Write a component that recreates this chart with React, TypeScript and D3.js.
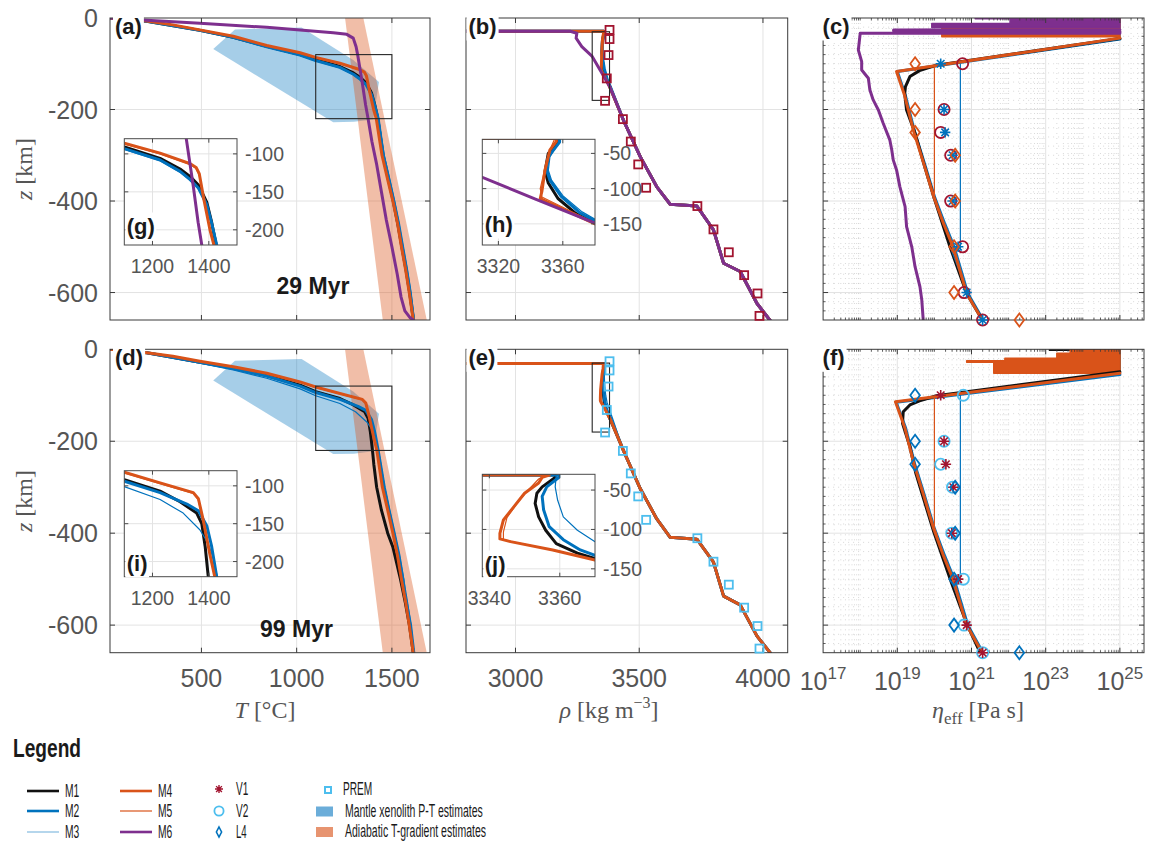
import React, { useEffect, useRef } from 'react';
import * as d3 from 'd3';

type P = [number, number];

// ================= DATA =================
// Temperature profiles, panel (a) 29 Myr: [T (°C), z (km)]
const tempA_M1: P[] = [[20,0],[213,-7],[492,-27],[667,-42],[843,-62],[1018,-80],[1100,-91],[1227,-106],[1298,-120],[1334,-130],[1363,-141],[1393,-164],[1410,-190],[1426,-220],[1453,-300],[1480,-350],[1507,-400],[1531,-450],[1552,-500],[1574,-550],[1593,-600],[1613,-660]];
const tempA_M2: P[] = [[20,0],[213,-7],[492,-27],[667,-42],[843,-63],[1018,-81],[1100,-93],[1227,-108],[1298,-123],[1334,-134],[1363,-145],[1393,-167],[1410,-191],[1428,-220],[1455,-300],[1482,-350],[1509,-400],[1533,-450],[1554,-500],[1576,-550],[1595,-600],[1614,-660]];
const tempA_M3: P[] = [[20,0],[213,-7],[492,-27],[667,-43],[843,-64],[1018,-82],[1100,-94],[1227,-109],[1298,-124],[1334,-135],[1363,-146],[1393,-168],[1412,-192],[1430,-220],[1460,-300],[1488,-350],[1515,-400],[1540,-450],[1561,-500],[1582,-550],[1601,-600],[1618,-660]];
const tempA_M4: P[] = [[20,0],[213,-6.6],[350,-15],[492,-26],[667,-40],[843,-60],[1018,-76],[1100,-86],[1227,-99],[1334,-113],[1355,-118],[1366,-126],[1383,-161],[1404,-200],[1418,-220],[1448,-300],[1476,-350],[1505,-400],[1530,-450],[1550,-500],[1572,-550],[1591,-600],[1612,-660]];
const tempA_M5: P[] = [[20,0],[213,-6.7],[350,-15],[492,-26],[667,-40],[843,-60],[1018,-77],[1100,-87],[1227,-100],[1334,-114],[1354,-119],[1366,-128],[1384,-163],[1405,-201],[1419,-220],[1450,-300],[1478,-350],[1507,-400],[1532,-450],[1552,-500],[1574,-550],[1593,-600],[1613,-660]];
const tempA_M6: P[] = [[20,0],[213,-5],[492,-11.7],[843,-20.4],[1192,-32],[1263,-35.7],[1297,-44],[1312,-63],[1320,-80],[1345,-143],[1362,-190],[1375,-220],[1395,-270],[1420,-320],[1445,-380],[1470,-440],[1500,-500],[1528,-560],[1548,-610],[1568,-640],[1595,-655],[1612,-660]];

// Temperature profiles, panel (d) 99 Myr
const tempD_M1: P[] = [[20,0],[213,-7.5],[492,-28],[667,-41],[843,-57],[1018,-78],[1100,-92],[1227,-107],[1298,-121],[1357,-136],[1375,-150],[1387,-180],[1398,-220],[1405,-250],[1420,-300],[1445,-350],[1478,-400],[1505,-430],[1545,-500],[1570,-550],[1592,-600],[1612,-660]];
const tempD_M2: P[] = [[20,0],[213,-7.5],[492,-28],[667,-42],[843,-58],[1018,-80],[1100,-94],[1227,-109],[1322,-124],[1363,-133],[1393,-153],[1410,-180],[1428,-220],[1460,-300],[1485,-350],[1512,-400],[1538,-450],[1558,-500],[1566,-530],[1580,-560],[1598,-600],[1615,-660]];
const tempD_M3: P[] = [[20,0],[213,-8],[492,-30],[667,-45],[843,-63],[1018,-86],[1100,-101],[1227,-118],[1309,-136],[1368,-158],[1398,-176],[1415,-195],[1430,-220],[1462,-300],[1488,-350],[1514,-400],[1540,-450],[1562,-500],[1582,-550],[1600,-600],[1616,-660]];
const tempD_M4: P[] = [[20,0],[213,-7.4],[350,-15],[492,-26],[667,-38],[843,-52],[1018,-71],[1100,-82],[1227,-96],[1345,-109],[1363,-117],[1380,-145],[1403,-189],[1421,-220],[1450,-300],[1478,-350],[1505,-400],[1530,-450],[1550,-500],[1572,-550],[1591,-600],[1612,-660]];
const tempD_M5: P[] = [[20,0],[213,-7.5],[350,-15],[492,-26],[667,-38],[843,-53],[1018,-72],[1100,-83],[1227,-97],[1344,-110],[1362,-118],[1380,-147],[1403,-190],[1421,-220],[1451,-300],[1479,-350],[1506,-400],[1531,-450],[1551,-500],[1573,-550],[1592,-600],[1613,-660]];

// Mantle xenolith P-T estimates (polygon) and adiabatic T-gradient band edges
const xenolithPT: P[] = [[562,-68],[676,-25],[1026,-21],[1297,-92],[1432,-140],[1402,-222],[1300,-227],[1192,-228]];
const adiabatCold: P[] = [[1254,0],[1452,-660]];
const adiabatHot: P[] = [[1350,0],[1683,-660]];

// Density profiles, panel (b) 29 Myr: [rho (kg m^-3), z (km)]
const rhoDeep29: P[] = [[3436,-223],[3504,-303],[3571,-369],[3625,-407],[3733,-411],[3800,-463],[3841,-536],[3908,-554],[3976,-624],[4029,-661]];
const rhoB_M1: P[] = [[2780,-29],[3357,-29],[3357,-34],[3351,-50],[3349,-75],[3351,-92],[3357,-114],[3368,-135],[3381,-150]];
const rhoB_M2: P[] = [[2780,-29],[3358,-29],[3358,-34],[3351,-55],[3350,-74],[3352,-88],[3359,-111],[3371,-135],[3381,-147]];
const rhoB_M3: P[] = [[2780,-29],[3358,-29],[3357,-36],[3352,-55],[3351,-74],[3353,-88],[3360,-110],[3372,-133],[3382,-146]];
const rhoB_M4: P[] = [[2780,-29],[3356,-29],[3356,-33],[3352,-45],[3349,-73],[3347,-104],[3346,-114],[3380,-150]];
const rhoB_M5: P[] = [[2780,-29],[3355,-29],[3353,-40],[3350,-60],[3348,-80],[3346,-100],[3347,-112],[3381,-150]];
const rhoB_M6: P[] = [[2780,-29],[3221,-29],[3248,-33.4],[3245,-44],[3268,-62.7],[3310,-84],[3343,-115],[3380,-149]];

// Density profiles, panel (e) 99 Myr
const rhoDeep99: P[] = [[3436,-220],[3504,-303],[3571,-369],[3625,-409],[3733,-413],[3800,-463],[3841,-537],[3908,-556],[3976,-624],[4029,-660]];
const rhoE_M1: P[] = [[2780,-31],[3358.7,-31],[3358.7,-34],[3355,-46],[3353.5,-54],[3353,-67],[3354,-84],[3356,-101],[3359,-118],[3365,-130],[3370,-137],[3385,-155]];
const rhoE_M2: P[] = [[2780,-31],[3359.7,-31],[3359.7,-34],[3356.3,-46],[3355,-58],[3355.4,-75],[3357,-96.5],[3361,-113],[3365.8,-126],[3370,-133],[3386,-152]];
const rhoE_M3: P[] = [[2780,-31],[3359,-31],[3358.7,-46],[3359.4,-63],[3361,-84],[3365,-101],[3370,-115.5],[3392,-150]];
const rhoE_M4: P[] = [[2780,-31],[3357,-31],[3355,-34],[3354,-41],[3350,-54],[3347,-71],[3344,-88],[3343,-105],[3343,-112],[3346,-115.5],[3358,-126],[3370,-139],[3383,-152]];
const rhoE_M5: P[] = [[2780,-31],[3356,-31],[3354,-36],[3351,-50],[3348,-66],[3345,-85],[3344,-103],[3344,-113],[3347,-116],[3359,-127],[3370,-139]];

// PREM density [rho, z]
const prem: P[] = [[3380,-26],[3380,-46],[3376,-81],[3369,-132],[3362,-181],[3434,-221],[3466,-270],[3496,-320],[3528,-371],[3735,-411],[3800,-462],[3862,-512],[3924,-562],[3978,-602],[3986,-651]];

// Effective viscosity, panel (c) 29 Myr: [log10(eta), z]
const viscC_M1: P[] = [[25.0,-45],[20.06,-103],[19.6,-115],[19.34,-128],[19.22,-150],[19.2,-165],[19.25,-201],[19.48,-252],[19.72,-320],[19.98,-390],[20.42,-500],[20.87,-602],[21.3,-661]];
const viscC_M2: P[] = [[25.0,-46],[19.0,-117],[19.22,-170],[19.47,-250],[19.74,-320],[20.0,-390],[20.28,-450],[20.53,-500],[20.9,-602],[21.32,-661]];
const viscC_M3: P[] = [[25.0,-46],[20.7,-97],[20.7,-507],[20.47,-510],[20.9,-602],[21.32,-661]];
const viscC_M4: P[] = [[25.0,-44],[18.98,-117],[19.2,-170],[19.45,-250],[19.72,-320],[19.98,-390],[20.25,-450],[20.5,-500],[20.87,-602],[21.3,-661]];
const viscC_M5: P[] = [[25.0,-44],[20.0,-104],[20.0,-390],[20.25,-450],[20.5,-500],[20.87,-602],[21.3,-661]];
const viscC_M6: P[] = [[25.0,-25.5],[18.9,-26],[18.9,-28],[25.0,-29],[25.0,-33.5],[18.0,-33.5],[17.95,-70],[18.04,-95.5],[18.04,-113.6],[18.22,-131.8],[18.26,-157],[18.35,-179],[18.49,-201],[18.62,-230],[18.8,-267],[18.85,-288],[18.89,-310],[18.98,-332],[19.07,-369],[19.21,-412],[19.25,-456],[19.39,-500],[19.48,-544],[19.61,-587],[19.66,-616],[19.7,-661]];
// Noisy crustal band (left envelope of oscillations, right bound 1e25): [z, log10(eta)]
const bandC_M1: P[] = [[0,22.6],[-2,24.95],[-22,20.5],[-33,24.95],[-45,24.95]];
const bandC_M4: P[] = [[0,23.1],[-3,24.95],[-21,20.2],[-41,24.95],[-44,24.95]];
const bandC_M6: P[] = [[0,21.1],[-1.5,24.9],[-3,22.04],[-12,19.93],[-21,19.93]];

// Effective viscosity, panel (f) 99 Myr
const viscF_M1: P[] = [[25.0,-49],[20.06,-101],[19.6,-112],[19.34,-121],[19.16,-136],[19.14,-161],[19.2,-176],[19.34,-212],[19.5,-270],[19.97,-394],[20.47,-510],[20.87,-597],[21.23,-659]];
const viscF_M2: P[] = [[25.0,-55],[18.97,-115],[19.22,-170],[19.47,-250],[19.74,-320],[20.0,-390],[20.28,-450],[20.53,-500],[20.9,-600],[21.3,-659]];
const viscF_M3: P[] = [[25.0,-53],[20.7,-98],[20.7,-510],[20.5,-512],[20.9,-600],[21.3,-659]];
const viscF_M4: P[] = [[25.0,-52],[18.95,-114],[19.2,-170],[19.45,-250],[19.72,-320],[19.98,-390],[20.25,-450],[20.5,-500],[20.87,-600],[21.28,-659]];
const viscF_M5: P[] = [[25.0,-52],[20.0,-103],[20.0,-387],[20.25,-450],[20.5,-500],[20.87,-600],[21.28,-659]];
const bandF_M1: P[] = [[0,23.1],[-2,24.95],[-49,24.95]];
const bandF_M4: P[] = [[0,23.66],[-8.7,23.3],[-19.6,21.9],[-25,20.87],[-28,21.6],[-52,21.6]];

// Viscosity estimates (markers): depth and log10(eta)
const markerDepths = [-100, -200, -250, -300, -400, -500, -600, -660];
const V1_c = [20.17, 20.26, 20.29, 20.49, 20.49, 20.64, 20.87, 21.3];
const V2_c = [20.76, 20.26, 20.17, 20.44, 20.44, 20.76, 20.8, 21.3];
const L4_c = [19.48, 19.48, 19.48, 20.56, 20.56, 20.53, 20.53, 22.29];
const V1_f = [20.17, 20.26, 20.31, 20.51, 20.47, 20.64, 20.87, 21.3];
const V2_f = [20.78, 20.26, 20.17, 20.49, 20.47, 20.78, 20.8, 21.3];
const L4_f = [19.48, 19.48, 19.48, 20.56, 20.56, 20.53, 20.53, 22.29];

// Ticks
const tTicks = [500, 1000, 1500];
const rhoTicks = [3000, 3500, 4000];
const zTicks = [0, -200, -400, -600];
const etaTickExps = [17, 19, 21, 23, 25];
const insetTTicks = [1200, 1400];
const insetTZTicks = [-100, -150, -200];
const insetRhoTicksH = [3320, 3360];
const insetRhoTicksJ = [3340, 3360];
const insetRhoZTicks = [-50, -100, -150];
const zoomBoxT: P[] = [[1100, -80], [1500, -220]];
const zoomBoxRho: P[] = [[3310, -30], [3380, -180]];
const models = ['M1', 'M2', 'M3', 'M4', 'M5', 'M6'];

// ================= STYLE =================
const COL: Record<string, string> = {
  M1: '#111111', M2: '#0072BD', M3: '#0072BD', M4: '#D95319', M5: '#D95319', M6: '#7E2F8E',
  red: '#A2142F', cyan: '#4DBEEE',
};
const WID: Record<string, number> = { M1: 3, M2: 3, M3: 1.2, M4: 3, M5: 1.2, M6: 3 };
const SANS = "'Liberation Sans', Arial, Helvetica, sans-serif";
const NARROW = "'Liberation Sans Narrow', 'Liberation Sans', Arial, sans-serif";
const SERIF = "'Liberation Serif', 'Times New Roman', serif";
const GRID = '#e3e3e3';
const AX = '#3a3a3a';
const TXT = '#555555';

type Box = { x0: number; x1: number; y0: number; y1: number };

export default function App() {
  const ref = useRef<SVGSVGElement | null>(null);

  useEffect(() => {
    const root = d3.select(ref.current as SVGSVGElement);
    root.selectAll('*').remove();
    const defs = root.append('defs');
    let cid = 0;
    const clipUrl = (b: Box) => {
      const id = `cp${cid++}`;
      defs.append('clipPath').attr('id', id).append('rect')
        .attr('x', b.x0).attr('y', b.y0).attr('width', b.x1 - b.x0).attr('height', b.y1 - b.y0);
      return `url(#${id})`;
    };
    root.append('rect').attr('width', 1149).attr('height', 841).attr('fill', '#fff');

    const boxA: Box = { x0: 110, x1: 430, y0: 18, y1: 320 };
    const boxB: Box = { x0: 466, x1: 787.7, y0: 18, y1: 320 };
    const boxC: Box = { x0: 823.1, x1: 1144, y0: 18, y1: 320 };
    const boxD: Box = { x0: 110, x1: 430, y0: 349.3, y1: 652.7 };
    const boxE: Box = { x0: 466, x1: 787.7, y0: 349.3, y1: 652.7 };
    const boxF: Box = { x0: 823.1, x1: 1144, y0: 349.3, y1: 652.7 };

    const yTop = d3.scaleLinear().domain([-660, 0]).range([boxA.y1, boxA.y0]);
    const yBot = d3.scaleLinear().domain([-660, 0]).range([boxD.y1, boxD.y0]);
    const xT = d3.scaleLinear().domain([20, 1700]).range([boxA.x0, boxA.x1]);
    const xR = d3.scaleLinear().domain([2800, 4100]).range([boxB.x0, boxB.x1]);
    const xE = d3.scaleLog().domain([1e17, Math.pow(10, 25.65)]).range([boxC.x0, boxC.x1]);
    const xEl = (v: number) => xE(Math.pow(10, v));

    const lineGen = (xs: (v: number) => number, ys: (v: number) => number) =>
      d3.line<P>().x(d => xs(d[0])).y(d => ys(d[1]));

    const drawSeries = (g: any, series: { data: P[]; m: string; w?: number; op?: number }[], xs: any, ys: any) => {
      series.forEach(s => {
        g.append('path').attr('d', lineGen(xs, ys)(s.data) as string)
          .attr('fill', 'none').attr('stroke', COL[s.m]).attr('stroke-width', s.w ?? WID[s.m])
          .attr('stroke-opacity', s.op ?? 1)
          .attr('stroke-linejoin', 'round').attr('stroke-linecap', 'round');
      });
    };

    const vline = (g: any, x: number, y0: number, y1: number, stroke: string, w = 1, dash: string | null = null) =>
      g.append('line').attr('x1', x).attr('x2', x).attr('y1', y0).attr('y2', y1)
        .attr('stroke', stroke).attr('stroke-width', w).attr('stroke-dasharray', dash);
    const hline = (g: any, y: number, x0: number, x1: number, stroke: string, w = 1, dash: string | null = null) =>
      g.append('line').attr('x1', x0).attr('x2', x1).attr('y1', y).attr('y2', y)
        .attr('stroke', stroke).attr('stroke-width', w).attr('stroke-dasharray', dash);

    const drawGrid = (g: any, b: Box, xs: number[], ys: number[]) => {
      xs.filter(x => x > b.x0 + 0.5 && x < b.x1 - 0.5).forEach(x => vline(g, x, b.y0, b.y1, GRID, 1));
      ys.filter(y => y > b.y0 + 0.5 && y < b.y1 - 0.5).forEach(y => hline(g, y, b.x0, b.x1, GRID, 1));
    };
    const drawFrame = (g: any, b: Box, xs: number[], ys: number[], len = 5, color = AX) => {
      g.append('rect').attr('x', b.x0).attr('y', b.y0).attr('width', b.x1 - b.x0).attr('height', b.y1 - b.y0)
        .attr('fill', 'none').attr('stroke', color).attr('stroke-width', 1);
      xs.filter(x => x > b.x0 + 0.5 && x < b.x1 - 0.5).forEach(x => {
        vline(g, x, b.y1, b.y1 - len, color, 1);
        vline(g, x, b.y0, b.y0 + len, color, 1);
      });
      ys.filter(y => y > b.y0 + 0.5 && y < b.y1 - 0.5).forEach(y => {
        hline(g, y, b.x0, b.x0 + len, color, 1);
        hline(g, y, b.x1 - len, b.x1, color, 1);
      });
    };
    const text = (g: any, x: number, y: number, s: string, size: number, opts: any = {}) =>
      g.append('text').attr('x', x).attr('y', y).text(s)
        .attr('font-family', opts.family ?? SANS).attr('font-size', size)
        .attr('font-weight', opts.weight ?? 'normal').attr('fill', opts.fill ?? TXT)
        .attr('text-anchor', opts.anchor ?? 'start').attr('dominant-baseline', opts.baseline ?? 'alphabetic');
    const labelBg = (g: any, x: number, y: number, s: string, size = 22, pad = 2) => {
      const gg = g.append('g');
      const rect = gg.append('rect').attr('fill', '#fff');
      const t = text(gg, x, y, s, size, { weight: 'bold', fill: '#1a1a1a' });
      const bb = (t.node() as SVGTextElement).getBBox();
      rect.attr('x', bb.x - pad).attr('y', bb.y - pad).attr('width', bb.width + 2 * pad).attr('height', bb.height + 2 * pad);
    };
    const zLabels = (g: any, ys: any) => zTicks.forEach(z => text(g, 98, ys(z), String(z), 25, { anchor: 'end', baseline: 'central' }));

    // ---------- markers ----------
    const asterisk = (g: any, cx: number, cy: number, r: number, c: string, w = 1.6) => {
      const k = r * 0.72;
      g.append('path').attr('d', `M${cx - r},${cy}L${cx + r},${cy}M${cx},${cy - r}L${cx},${cy + r}M${cx - k},${cy - k}L${cx + k},${cy + k}M${cx - k},${cy + k}L${cx + k},${cy - k}`)
        .attr('stroke', c).attr('stroke-width', w).attr('fill', 'none');
    };
    const circle = (g: any, cx: number, cy: number, r: number, c: string, w = 1.8) =>
      g.append('circle').attr('cx', cx).attr('cy', cy).attr('r', r).attr('fill', 'none').attr('stroke', c).attr('stroke-width', w);
    const diamond = (g: any, cx: number, cy: number, hw: number, hh: number, c: string, w = 1.8) =>
      g.append('path').attr('d', `M${cx},${cy - hh}L${cx + hw},${cy}L${cx},${cy + hh}L${cx - hw},${cy}Z`).attr('fill', 'none').attr('stroke', c).attr('stroke-width', w);
    const square = (g: any, cx: number, cy: number, s: number, c: string, w = 1.8) =>
      g.append('rect').attr('x', cx - s / 2).attr('y', cy - s / 2).attr('width', s).attr('height', s).attr('fill', 'none').attr('stroke', c).attr('stroke-width', w);

    // ---------- inset ----------
    const inset = (b: Box, xd: [number, number], yd: [number, number], series: any[], xt: number[], yt: number[], lab: string, labY: number) => {
      const xs = d3.scaleLinear().domain(xd).range([b.x0, b.x1]);
      const ys = d3.scaleLinear().domain(yd).range([b.y1, b.y0]);
      const g = root.append('g');
      g.append('rect').attr('x', b.x0).attr('y', b.y0).attr('width', b.x1 - b.x0).attr('height', b.y1 - b.y0).attr('fill', '#fff');
      drawGrid(g, b, xt.map(xs), yt.map(ys));
      const c = g.append('g').attr('clip-path', clipUrl(b));
      drawSeries(c, series, xs, ys);
      drawFrame(g, b, xt.map(xs), yt.map(ys), 4, '#4a4a4a');
      xt.forEach(v => text(g, xs(v), b.y1 + 28, String(v), 19.5, { anchor: 'middle' }));
      yt.forEach(v => text(g, b.x1 + 8, ys(v), String(v), 19.5, { baseline: 'central' }));
      labelBg(g, b.x0 + 2.5, labY, lab, 22, 1.5);
    };

    // ---------- temperature panel ----------
    const tempPanel = (b: Box, ys: any, series: any[], lab: string, age: string, ageX: number, ageY: number) => {
      const g = root.append('g');
      drawGrid(g, b, tTicks.map(xT), zTicks.map(ys));
      const c = g.append('g').attr('clip-path', clipUrl(b));
      const lg = lineGen(xT, ys);
      c.append('path').attr('d', (lg(xenolithPT) as string) + 'Z').attr('fill', COL.M2).attr('fill-opacity', 0.35);
      c.append('path').attr('d', (lg([...adiabatCold, ...adiabatHot.slice().reverse()]) as string) + 'Z')
        .attr('fill', COL.M4).attr('fill-opacity', 0.38);
      drawSeries(c, series, xT, ys);
      c.append('rect').attr('x', xT(zoomBoxT[0][0])).attr('y', ys(zoomBoxT[0][1]))
        .attr('width', xT(zoomBoxT[1][0]) - xT(zoomBoxT[0][0])).attr('height', ys(zoomBoxT[1][1]) - ys(zoomBoxT[0][1]))
        .attr('fill', 'none').attr('stroke', '#262626').attr('stroke-width', 1.1);
      drawFrame(g, b, tTicks.map(xT), zTicks.map(ys));
      zLabels(g, ys);
      text(g, ageX, ageY, age, 23, { weight: 'bold', fill: '#1a1a1a' });
      labelBg(g, b.x0 + 5, b.y0 + 15.5, lab);
    };

    // ---------- density panel ----------
    const rhoPanel = (b: Box, ys: any, series: any[], premColor: string, lab: string) => {
      const g = root.append('g');
      drawGrid(g, b, rhoTicks.map(xR), zTicks.map(ys));
      const c = g.append('g').attr('clip-path', clipUrl(b));
      drawSeries(c, series, xR, ys);
      c.append('rect').attr('x', xR(zoomBoxRho[0][0])).attr('y', ys(zoomBoxRho[0][1]))
        .attr('width', xR(zoomBoxRho[1][0]) - xR(zoomBoxRho[0][0])).attr('height', ys(zoomBoxRho[1][1]) - ys(zoomBoxRho[0][1]))
        .attr('fill', 'none').attr('stroke', '#262626').attr('stroke-width', 1.1);
      drawFrame(g, b, rhoTicks.map(xR), zTicks.map(ys));
      prem.forEach(p => square(g, xR(p[0]), ys(p[1]), 8, premColor, 1.8));
      labelBg(g, b.x0 + 2.5, b.y0 + 15.5, lab);
    };

    // ---------- viscosity panel ----------
    const bandPoly = (band: P[], ys: any): string => {
      const pts: [number, number][] = [];
      for (let i = 0; i < band.length - 1; i++) {
        pts.push([xEl(band[i][1]), ys(band[i][0])]);
        pts.push([xEl(band[i][1]), ys(band[i + 1][0])]);
      }
      pts.push([xEl(25.0), ys(band[band.length - 1][0])]);
      pts.push([xEl(25.0), ys(band[0][0])]);
      return (d3.line()(pts) as string) + 'Z';
    };
    const viscPanel = (b: Box, ys: any, bands: { band: P[]; m: string }[], series: any[], v1: number[], v2: number[], l4: number[], cV1: string, cV2: string, cL4: string, lab: string) => {
      const g = root.append('g');
      const majors = etaTickExps.map(e => xE(Math.pow(10, e)));
      const minorX: number[] = [];
      for (let e = 17; e <= 25; e++) for (let k = 1; k <= 9; k++) {
        if (k === 1 && etaTickExps.includes(e)) continue;
        const v = k * Math.pow(10, e);
        if (v > 1e17 && v < Math.pow(10, 25.65)) minorX.push(xE(v));
      }
      const minorY: number[] = [];
      for (let z = -20; z > -660; z -= 20) if (z % 200 !== 0) minorY.push(ys(z));
      minorX.forEach(x => vline(g, x, b.y0, b.y1, '#cfcfcf', 0.8, '1,4'));
      minorY.forEach(y => hline(g, y, b.x0, b.x1, '#cfcfcf', 0.8, '1,4'));
      drawGrid(g, b, majors, zTicks.map(ys));
      const c = g.append('g').attr('clip-path', clipUrl(b));
      bands.forEach(bd => c.append('path').attr('d', bandPoly(bd.band, ys)).attr('fill', COL[bd.m]).attr('stroke', COL[bd.m]).attr('stroke-width', 1.5).attr('stroke-linejoin', 'round'));
      drawSeries(c, series, xEl, ys);
      drawFrame(g, b, majors, zTicks.map(ys));
      minorX.forEach(x => { vline(g, x, b.y1, b.y1 - 2.5, AX, 0.8); vline(g, x, b.y0, b.y0 + 2.5, AX, 0.8); });
      minorY.forEach(y => { hline(g, y, b.x0, b.x0 + 2.5, AX, 0.8); hline(g, y, b.x1 - 2.5, b.x1, AX, 0.8); });
      markerDepths.forEach((z, i) => circle(g, xEl(v2[i]), ys(z), 5.6, cV2));
      markerDepths.forEach((z, i) => asterisk(g, xEl(v1[i]), ys(z), 5.2, cV1));
      markerDepths.forEach((z, i) => diamond(g, xEl(l4[i]), ys(z), 4.8, 6.5, cL4));
      labelBg(g, b.x0 - 0.5, b.y0 + 15.5, lab);
    };

    // ===== Panels =====
    tempPanel(boxA, yTop, [
      { data: tempA_M1, m: 'M1' }, { data: tempA_M2, m: 'M2' }, { data: tempA_M3, m: 'M3' },
      { data: tempA_M4, m: 'M4' }, { data: tempA_M5, m: 'M5' }, { data: tempA_M6, m: 'M6' },
    ], '(a)', '29 Myr', 276.5, 294);
    tempPanel(boxD, yBot, [
      { data: tempD_M1, m: 'M1' }, { data: tempD_M2, m: 'M2' }, { data: tempD_M3, m: 'M3' },
      { data: tempD_M4, m: 'M4' }, { data: tempD_M5, m: 'M5' },
    ], '(d)', '99 Myr', 260, 637);

    const rhoSeriesB = [
      { data: [...rhoB_M1, ...rhoDeep29], m: 'M1' }, { data: [...rhoB_M2, ...rhoDeep29], m: 'M2' },
      { data: [...rhoB_M3, ...rhoDeep29], m: 'M3' }, { data: [...rhoB_M4, ...rhoDeep29], m: 'M4' },
      { data: [...rhoB_M5, ...rhoDeep29], m: 'M5' }, { data: [...rhoB_M6, ...rhoDeep29], m: 'M6' },
    ];
    const rhoSeriesE = [
      { data: [...rhoE_M1, ...rhoDeep99], m: 'M1' }, { data: [...rhoE_M2, ...rhoDeep99], m: 'M2' },
      { data: [...rhoE_M3, ...rhoDeep99], m: 'M3' }, { data: [...rhoE_M5, ...rhoDeep99], m: 'M5' },
      { data: [...rhoE_M4, ...rhoDeep99], m: 'M4' },
    ];
    rhoPanel(boxB, yTop, rhoSeriesB, COL.red, '(b)');
    rhoPanel(boxE, yBot, rhoSeriesE, COL.cyan, '(e)');

    viscPanel(boxC, yTop,
      [{ band: bandC_M1, m: 'M2' }, { band: bandC_M4, m: 'M4' }, { band: bandC_M6, m: 'M6' }],
      [{ data: viscC_M2, m: 'M2' }, { data: viscC_M1, m: 'M1' }, { data: viscC_M3, m: 'M3' },
       { data: viscC_M4, m: 'M4' }, { data: viscC_M5, m: 'M5' }, { data: viscC_M6, m: 'M6' }],
      V1_c, V2_c, L4_c, COL.M2, COL.red, COL.M4, '(c)');
    viscPanel(boxF, yBot,
      [{ band: bandF_M1, m: 'M1' }, { band: bandF_M4, m: 'M4' }],
      [{ data: viscF_M2, m: 'M2' }, { data: viscF_M1, m: 'M1' }, { data: viscF_M3, m: 'M3' },
       { data: viscF_M4, m: 'M4' }, { data: viscF_M5, m: 'M5' }],
      V1_f, V2_f, L4_f, COL.red, COL.cyan, COL.M2, '(f)');

    // ===== Insets =====
    inset({ x0: 124.3, x1: 237, y0: 138.7, y1: 245 }, [1100, 1500], [-220, -80], [
      { data: tempA_M1, m: 'M1' }, { data: tempA_M2, m: 'M2' }, { data: tempA_M3, m: 'M3' },
      { data: tempA_M4, m: 'M4' }, { data: tempA_M5, m: 'M5' }, { data: tempA_M6, m: 'M6' },
    ], insetTTicks, insetTZTicks, '(g)', 234);
    inset({ x0: 124.3, x1: 237, y0: 470.7, y1: 576.7 }, [1100, 1500], [-220, -80], [
      { data: tempD_M1, m: 'M1' }, { data: tempD_M2, m: 'M2' }, { data: tempD_M3, m: 'M3' },
      { data: tempD_M5, m: 'M5' }, { data: tempD_M4, m: 'M4' },
    ], insetTTicks, insetTZTicks, '(i)', 571);
    inset({ x0: 482.3, x1: 595, y0: 139.3, y1: 245 }, [3310, 3380], [-180, -30], rhoSeriesB, insetRhoTicksH, insetRhoZTicks, '(h)', 232);
    inset({ x0: 482.3, x1: 595, y0: 474.3, y1: 576.7 }, [3338, 3370], [-160, -30], rhoSeriesE, insetRhoTicksJ, insetRhoZTicks, '(j)', 572);

    // ===== Axis tick labels (bottom row) =====
    tTicks.forEach(v => text(root, xT(v), 687, String(v), 25, { anchor: 'middle' }));
    rhoTicks.forEach(v => text(root, xR(v), 687, String(v), 25, { anchor: 'middle' }));
    etaTickExps.forEach(e => {
      const t = text(root, xE(Math.pow(10, e)), 690, '', 25, { anchor: 'middle' });
      t.append('tspan').text('10');
      t.append('tspan').text(String(e)).attr('font-size', 17).attr('dy', -11);
    });

    // ===== Axis titles =====
    [169, 501].forEach(cy => {
      const t = root.append('text').attr('transform', `translate(32,${cy}) rotate(-90)`)
        .attr('text-anchor', 'middle').attr('font-family', SERIF).attr('font-size', 24).attr('fill', TXT);
      t.append('tspan').text('z').attr('font-style', 'italic');
      t.append('tspan').text(' [km]');
    });
    {
      const t = root.append('text').attr('x', 265).attr('y', 718).attr('text-anchor', 'middle')
        .attr('font-family', SERIF).attr('font-size', 24).attr('fill', TXT);
      t.append('tspan').text('T').attr('font-style', 'italic');
      t.append('tspan').text(' [°C]');
    }
    {
      const t = root.append('text').attr('x', 609).attr('y', 718).attr('text-anchor', 'middle')
        .attr('font-family', SERIF).attr('font-size', 24).attr('fill', TXT);
      t.append('tspan').text('ρ').attr('font-style', 'italic');
      t.append('tspan').text(' [kg m');
      t.append('tspan').text('−3').attr('font-size', 16).attr('dy', -10);
      t.append('tspan').text(']').attr('dy', 10);
    }
    {
      const t = root.append('text').attr('x', 978).attr('y', 718).attr('text-anchor', 'middle')
        .attr('font-family', SERIF).attr('font-size', 24).attr('fill', TXT);
      t.append('tspan').text('η').attr('font-style', 'italic');
      t.append('tspan').text('eff').attr('font-size', 17).attr('dy', 6);
      t.append('tspan').text(' [Pa s]').attr('dy', -6);
    }

    // ===== Legend =====
    const lg = root.append('g');
    lg.append('text').attr('x', 13).attr('y', 757).text('Legend').attr('font-family', NARROW)
      .attr('font-size', 26).attr('font-weight', 'bold').attr('fill', '#1a1a1a')
      .attr('textLength', 68).attr('lengthAdjust', 'spacingAndGlyphs');
    const rowsY = [791, 811, 832];
    const legText = (x: number, y: number, s: string, w: number) =>
      lg.append('text').attr('x', x).attr('y', y + 6).text(s)
        .attr('font-family', NARROW).attr('font-size', 17.5).attr('fill', '#1a1a1a')
        .attr('textLength', w).attr('lengthAdjust', 'spacingAndGlyphs');
    models.forEach((m, i) => {
      const col = Math.floor(i / 3), row = i % 3;
      const x0 = col === 0 ? 27 : 120;
      const y = rowsY[row];
      lg.append('line').attr('x1', x0).attr('x2', x0 + 32).attr('y1', y).attr('y2', y)
        .attr('stroke', COL[m]).attr('stroke-width', m === 'M3' ? 1.3 : WID[m] === 3 ? 2.6 : 1.2)
        .attr('stroke-opacity', m === 'M3' ? 0.45 : 1);
      legText(x0 + 38, y, m, 14.3);
    });
    asterisk(lg, 219, 789, 4, COL.red, 1.4);
    legText(236, 789, 'V1', 12.3);
    circle(lg, 219, 811, 4.6, COL.cyan, 1.8);
    legText(236, 811, 'V2', 12.3);
    diamond(lg, 219, 832, 2.6, 5, COL.M2, 1.6);
    legText(236, 832, 'L4', 10.7);
    square(lg, 328, 790, 6, COL.cyan, 2);
    legText(343, 788.5, 'PREM', 29.3);
    lg.append('rect').attr('x', 316).attr('y', 806.5).attr('width', 17).attr('height', 10).attr('fill', COL.M2).attr('fill-opacity', 0.58);
    legText(345, 811, 'Mantle xenolith P-T estimates', 137.7);
    lg.append('rect').attr('x', 316).attr('y', 827).attr('width', 17).attr('height', 10).attr('fill', COL.M4).attr('fill-opacity', 0.62);
    legText(345, 831, 'Adiabatic T-gradient estimates', 141);
  }, []);

  return (
    <svg ref={ref} width={1149} height={841}
      style={{ position: 'absolute', left: 0, top: 0, background: '#fff', display: 'block' }} />
  );
}
